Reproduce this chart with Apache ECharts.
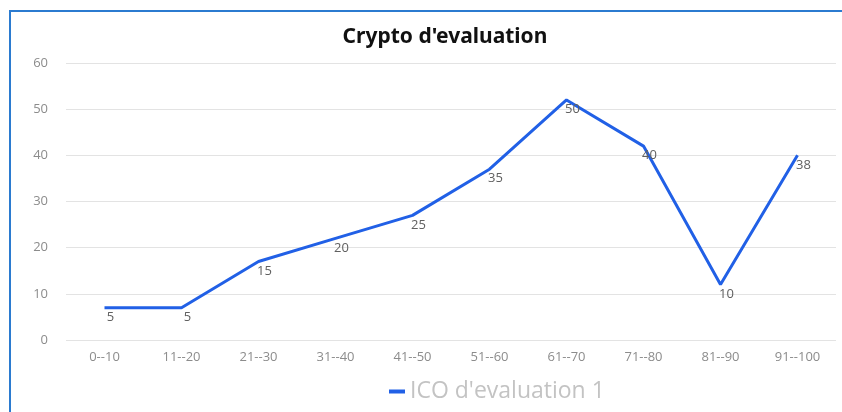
<!DOCTYPE html>
<html>
<head>
<meta charset="utf-8">
<script src="https://cdn.jsdelivr.net/npm/echarts@6/dist/echarts.min.js"></script>
<style>
  html, body { margin: 0; padding: 0; background: #fff; }
  #wrap { position: relative; width: 842px; height: 412px; }
  #chart { width: 842px; height: 412px; }
  #frame {
    position: absolute; left: 9px; top: 10px; right: 0; bottom: 0;
    border-left: 2px solid #2b7bd0; border-top: 2px solid #2b7bd0;
    pointer-events: none;
  }
</style>
</head>
<body>
<div id="wrap">
  <div id="chart"></div>
  <div id="frame"></div>
</div>
<script>
// catégories (axe x)
const categories = ['0--10', '11--20', '21--30', '31--40', '41--50', '51--60', '61--70', '71--80', '81--90', '91--100']
// position de la courbe
const values = [7, 7, 17, 22, 27, 37, 52, 42, 12, 40]
// étiquettes affichées sous les points
const pointLabels = ['5', '5', '15', '20', '25', '35', '50', '40', '10', '38']
const yTicks = [0, 10, 20, 30, 40, 50, 60]

const myChart = echarts.init(document.getElementById('chart'))
const axisColor = '#8c8c8c'

const option = {
  animation: false,
  title: {
    text: "Crypto d'evaluation",
    left: 440,
    top: 22,
    textAlign: 'center',
    textStyle: { fontFamily: 'Noto Sans', fontSize: 21, fontWeight: 'bold', color: '#111' },
  },
  legend: {
    data: ["ICO d'evaluation 1"],
    left: 384,
    top: 375,
    icon: 'rect',
    itemWidth: 16,
    itemHeight: 4,
    itemGap: 20,
    textStyle: { fontFamily: 'Open Sans', fontSize: 23, color: '#c3c3c3' },
  },
  grid: { left: 66, right: 6, top: 63, bottom: 72 },
  xAxis: {
    type: 'category',
    data: categories,
    boundaryGap: true,
    axisLine: { show: false },
    axisTick: { show: false },
    axisLabel: { color: axisColor, fontFamily: 'Open Sans', fontSize: 13, margin: 11 },
  },
  yAxis: {
    type: 'value',
    min: yTicks[0],
    max: yTicks[yTicks.length - 1],
    interval: 10,
    axisLine: { show: false },
    axisTick: { show: false },
    axisLabel: { color: axisColor, fontFamily: 'Open Sans', fontSize: 13, margin: 18 },
    splitLine: { lineStyle: { color: '#e3e3e3', width: 1 } },
  },
  series: [
    {
      name: "ICO d'evaluation 1",
      type: 'line',
      data: values,
      symbol: 'circle',
      symbolSize: 0.1,
      showSymbol: true,
      lineStyle: { color: '#2160e6', width: 3 },
      itemStyle: { color: '#2160e6' },
      label: {
        show: true,
        position: 'bottom',
        distance: 3,
        offset: [6, 0],
        color: '#606060',
        fontFamily: 'Open Sans',
        fontSize: 13,
        formatter: (p) => pointLabels[p.dataIndex],
      },
    },
  ],
}

myChart.setOption(option, true)
</script>
</body>
</html>
